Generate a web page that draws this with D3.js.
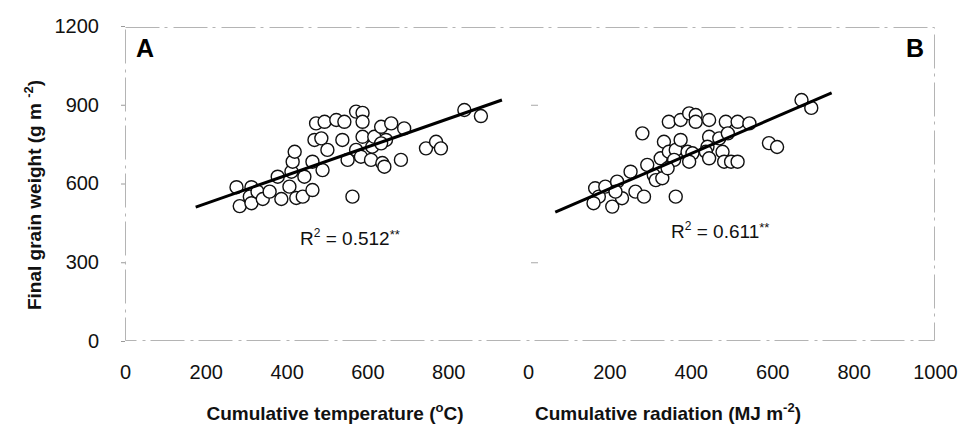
<!DOCTYPE html>
<html>
<head>
<meta charset="utf-8">
<script src="https://cdn.jsdelivr.net/npm/d3@7"></script>
<style>
  html, body { margin: 0; padding: 0; background: #fff; }
  svg { display: block; font-family: "Liberation Sans", Arial, sans-serif; }
</style>
</head>
<body>
<svg id="chart" width="960" height="436"></svg>
<script>
// Panel A: cumulative temperature (°C) vs final grain weight (g m-2)
const tempA = [276, 284, 313, 309, 313, 328, 341, 358, 378, 387, 407, 424, 440, 464, 444, 412, 415, 420,
  464, 469, 473, 494, 486, 489, 501, 523, 543, 538, 551, 563, 572, 588, 588, 588, 572, 584, 609, 612,
  617, 634, 637, 646, 659, 691, 634, 642, 683, 745, 770, 782, 840, 881];
const weightA = [586, 514, 586, 550, 525, 569, 541, 569, 626, 541, 588, 545, 550, 575, 626, 645, 683, 721,
  683, 766, 829, 835, 772, 651, 728, 842, 835, 766, 690, 550, 874, 869, 835, 778, 728, 702, 690, 740,
  778, 816, 678, 766, 829, 810, 753, 664, 690, 734, 759, 734, 880, 857];

// Panel B: cumulative radiation (MJ m-2) vs final grain weight (g m-2)
const radB = [165, 174, 161, 190, 207, 219, 231, 215, 252, 264, 285, 293, 309, 314, 330, 281, 326, 334,
  346, 363, 359, 375, 343, 363, 346, 375, 396, 412, 412, 392, 404, 396, 445, 445, 441, 437, 445, 470,
  478, 486, 491, 482, 499, 515, 515, 544, 592, 612, 672, 696];
const weightB = [582, 550, 525, 588, 512, 607, 544, 569, 645, 569, 550, 671, 632, 613, 620, 791, 696, 759,
  721, 728, 690, 766, 658, 550, 835, 842, 867, 861, 835, 721, 715, 683, 842, 778, 740, 721, 696, 772,
  721, 835, 791, 683, 683, 683, 835, 829, 754, 739, 918, 888];

// Linear trend lines: [x start, x end], slope, intercept
const trendRangeA = [175, 933];
const trendCoefA = [0.538, 416];
const trendRangeB = [67, 746];
const trendCoefB = [0.669, 446];

const xTicksA = [0, 200, 400, 600, 800];
const xTicksB = [0, 200, 400, 600, 800, 1000];
const yTicks = [0, 300, 600, 900, 1200];

const svg = d3.select("#chart");

const y = d3.scaleLinear().domain([0, 1200]).range([341, 26]);
const xA = d3.scaleLinear().domain([0, 1000]).range([125, 529]);
const xB = d3.scaleLinear().domain([0, 1000]).range([528, 935]);

// Plot frame (light, broken grey border)
svg.append("rect")
  .attr("x", 125.5).attr("y", 27.5)
  .attr("width", 809).attr("height", 313)
  .attr("fill", "none")
  .attr("stroke", "#b4b4b4")
  .attr("stroke-width", 1)
  .attr("stroke-dasharray", "34,5,3,6");

// Y axis
const yAxis = svg.append("g")
  .attr("transform", "translate(125,0)")
  .call(d3.axisLeft(y).tickValues(yTicks).tickSize(4).tickPadding(22).tickFormat(d3.format("d")));
yAxis.select(".domain").remove();
yAxis.selectAll(".tick line").attr("stroke", "#9a9a9a");
yAxis.selectAll("text").attr("font-size", 20).attr("fill", "#111")
  .attr("font-family", "Liberation Sans, Arial, sans-serif");

// Faint tick marks on panel B's left side
svg.append("g").selectAll("line")
  .data([300, 900])
  .join("line")
  .attr("x1", xB(0) + 3).attr("x2", xB(0) + 10)
  .attr("y1", d => y(d) + 0.5).attr("y2", d => y(d) + 0.5)
  .attr("stroke", "#a8a8a8").attr("stroke-width", 1);

// X axes
function drawXAxis(scale, ticks) {
  const g = svg.append("g")
    .attr("transform", "translate(0,340)")
    .call(d3.axisBottom(scale).tickValues(ticks).tickSize(0).tickPadding(25).tickFormat(d3.format("d")));
  g.select(".domain").remove();
  g.selectAll("text").attr("font-size", 20).attr("fill", "#111")
    .attr("font-family", "Liberation Sans, Arial, sans-serif");
}
drawXAxis(xA, xTicksA);
drawXAxis(xB, xTicksB);

// Scatter points
function drawPoints(xs, ys, scale) {
  svg.append("g").selectAll("circle")
    .data(xs.map((v, i) => [v, ys[i]]))
    .join("circle")
    .attr("cx", d => scale(d[0]))
    .attr("cy", d => y(d[1]))
    .attr("r", 6.5)
    .attr("fill", "#fff")
    .attr("stroke", "#111")
    .attr("stroke-width", 1.4);
}
drawPoints(tempA, weightA, xA);
drawPoints(radB, weightB, xB);

// Trend lines
function drawTrend(range, coef, scale) {
  const pts = range.map(v => [scale(v), y(coef[0] * v + coef[1])]);
  svg.append("path")
    .attr("d", d3.line()(pts))
    .attr("stroke", "#000")
    .attr("stroke-width", 3)
    .attr("fill", "none");
}
drawTrend(trendRangeA, trendCoefA, xA);
drawTrend(trendRangeB, trendCoefB, xB);

// R² annotations
function rLabel(x, yPos, val) {
  const t = svg.append("text").attr("x", x).attr("y", yPos)
    .attr("font-size", 19).attr("fill", "#111");
  t.append("tspan").text("R");
  t.append("tspan").text("2").attr("font-size", 12).attr("dy", -8);
  t.append("tspan").text(" = " + val).attr("dy", 8);
  t.append("tspan").text("**").attr("font-size", 13).attr("dy", -6);
}
rLabel(300, 245, "0.512");
rLabel(671, 238, "0.611");

// Panel letters
svg.append("text").attr("x", 136).attr("y", 57).text("A")
  .attr("font-size", 25).attr("font-weight", "bold");
svg.append("text").attr("x", 906).attr("y", 57).text("B")
  .attr("font-size", 25).attr("font-weight", "bold");

// Axis titles
const yTitle = svg.append("text")
  .attr("transform", "translate(41,195) rotate(-90)")
  .attr("text-anchor", "middle")
  .attr("font-size", 19).attr("font-weight", "bold").attr("fill", "#111");
yTitle.append("tspan").text("Final grain weight (g m ");
yTitle.append("tspan").text("-2").attr("font-size", 13).attr("dy", -8);
yTitle.append("tspan").text(")").attr("dy", 8);

const xTitleA = svg.append("text")
  .attr("x", 335).attr("y", 420)
  .attr("text-anchor", "middle")
  .attr("font-size", 19).attr("font-weight", "bold").attr("fill", "#111");
xTitleA.append("tspan").text("Cumulative temperature (");
xTitleA.append("tspan").text("o").attr("font-size", 13).attr("dy", -8);
xTitleA.append("tspan").text("C)").attr("dy", 8);

const xTitleB = svg.append("text")
  .attr("x", 668).attr("y", 420)
  .attr("text-anchor", "middle")
  .attr("font-size", 19).attr("font-weight", "bold").attr("fill", "#111");
xTitleB.append("tspan").text("Cumulative radiation (MJ m");
xTitleB.append("tspan").text("-2").attr("font-size", 13).attr("dy", -8);
xTitleB.append("tspan").text(")").attr("dy", 8);
</script>
</body>
</html>
